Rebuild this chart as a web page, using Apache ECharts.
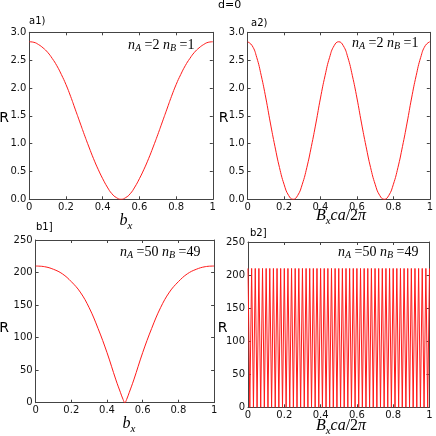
<!DOCTYPE html>
<html><head><meta charset="utf-8">
<script src="https://cdn.jsdelivr.net/npm/echarts@6/dist/echarts.min.js"></script>
<style>html,body{margin:0;padding:0;background:#fff;}#c{width:436px;height:436px;}</style>
</head><body><div id="c"></div>
<script>
// ---- data ----
const a1X = [0,0.025,0.05,0.075,0.1,0.125,0.15,0.175,0.2,0.225,0.25,0.275,0.3,0.325,0.35,0.375,0.4,0.425,0.45,0.475,0.5,
             0.525,0.55,0.575,0.6,0.625,0.65,0.675,0.7,0.725,0.75,0.775,0.8,0.825,0.85,0.875,0.9,0.925,0.95,0.975,1];
const a1R = [2.83,2.82,2.78,2.72,2.64,2.53,2.40,2.24,2.06,1.85,1.62,1.39,1.16,0.94,0.73,0.54,0.37,0.22,0.10,0.03,0.0,
             0.03,0.10,0.22,0.37,0.54,0.73,0.94,1.16,1.39,1.62,1.85,2.06,2.24,2.40,2.53,2.64,2.72,2.78,2.82,2.83];
const a2X = [0,0.025,0.05,0.075,0.1,0.125,0.15,0.175,0.2,0.225,0.25,0.275,0.3,0.325,0.35,0.375,0.4,0.425,0.45,0.475,0.5,
             0.525,0.55,0.575,0.6,0.625,0.65,0.675,0.7,0.725,0.75,0.775,0.8,0.825,0.85,0.875,0.9,0.925,0.95,0.975,1];
const a2R = [2.83,2.76,2.55,2.22,1.82,1.37,0.95,0.57,0.27,0.07,0.0,0.07,0.27,0.57,0.95,1.37,1.82,2.22,2.55,2.76,2.83,
             2.76,2.55,2.22,1.82,1.37,0.95,0.57,0.27,0.07,0.0,0.07,0.27,0.57,0.95,1.37,1.82,2.22,2.55,2.76,2.83];
const b1X = [0,0.05,0.1,0.15,0.2,0.25,0.3,0.35,0.4,0.45,0.475,0.49,0.5,0.51,0.525,0.55,0.6,0.65,0.7,0.75,0.8,0.85,0.9,0.95,1];
const b1R = [210,209,205,198,186,170,146,114,77,35,16,5,0,5,16,35,77,114,146,170,186,198,205,209,210];
const b2Step = 0.01;
const b2R = [210,0,210,0,210,0,210,0,210,0,210,0,210,0,210,0,210,0,210,0,
             210,0,210,0,210,0,210,0,210,0,210,0,210,0,210,0,210,0,210,0,
             210,0,210,0,210,0,210,0,210,0,210,0,210,0,210,0,210,0,210,0,
             210,0,210,0,210,0,210,0,210,0,210,0,210,0,210,0,210,0,210,0,
             210,0,210,0,210,0,210,0,210,0,210,0,210,0,210,0,210,0,210,0,210];
const aYTicks = {min:0, max:3, interval:0.5};
const bYTicks = {min:0, max:250, interval:50};
const xTicks = {min:0, max:1, interval:0.2};

// ---- layout ----
const grids = [
  {left:29.3, top:32.3, width:183.5, height:167},
  {left:247.6, top:32.3, width:183.5, height:167},
  {left:35.6, top:240, width:178.5, height:162.7},
  {left:248, top:242, width:181.5, height:165.3}
];
const axisCol = '#444';
const tickFont = {fontFamily:'DejaVu Sans', fontSize:10, color:'#111'};
function xAx(i, pos){
  return {type:'value', gridIndex:i, position:pos, min:xTicks.min, max:xTicks.max, interval:xTicks.interval,
    axisLine:{show:true, onZero:false, lineStyle:{color:axisCol, width:1}},
    axisTick:{show:true, inside:true, length:3, lineStyle:{color:axisCol}},
    axisLabel:Object.assign({show:pos==='bottom', margin:3}, tickFont),
    splitLine:{show:false}};
}
function yAx(i, pos, t, dec){
  return {type:'value', gridIndex:i, position:pos, min:t.min, max:t.max, interval:t.interval,
    axisLine:{show:true, onZero:false, lineStyle:{color:axisCol, width:1}},
    axisTick:{show:true, inside:true, length:3, lineStyle:{color:axisCol}},
    axisLabel:Object.assign({show:pos==='left', margin:3, formatter:v=>v.toFixed(dec)}, tickFont),
    splitLine:{show:false}};
}
const xAxis = [], yAxis = [];
for (let i=0;i<4;i++){
  xAxis.push(xAx(i,'bottom')); xAxis.push(xAx(i,'top'));
  const t = i<2 ? aYTicks : bYTicks, d = i<2 ? 1 : 0;
  yAxis.push(yAx(i,'left',t,d)); yAxis.push(yAx(i,'right',t,d));
}
function pairs(xs, ys){ return ys.map((y,k)=>[xs[k], y]); }
const b2Data = b2R.map((y,k)=>[k*b2Step, y]);
function ser(i, data, smooth){
  return {type:'line', xAxisIndex:2*i, yAxisIndex:2*i, data:data, smooth:smooth, showSymbol:false,
    lineStyle:{color:'#ff1a1a', width:1}, silent:true};
}
const series = [
  ser(0, pairs(a1X,a1R), 0.5),
  ser(1, pairs(a2X,a2R), 0.5),
  ser(2, pairs(b1X,b1R), 0.4),
  ser(3, b2Data, false)
];

const rich = {
  mi:{fontFamily:'Liberation Serif', fontStyle:'italic', fontSize:16, color:'#000'},
  rm:{fontFamily:'Liberation Serif', fontSize:16, color:'#000'},
  sub:{fontFamily:'Liberation Serif', fontStyle:'italic', fontSize:11, color:'#000', padding:[10,0,0,0]},
  ni:{fontFamily:'Liberation Serif', fontStyle:'italic', fontSize:14, color:'#000'},
  nr:{fontFamily:'Liberation Serif', fontSize:14, color:'#000'},
  ns:{fontFamily:'Liberation Serif', fontStyle:'italic', fontSize:10, color:'#000', padding:[7,0,0,0]}
};
function txt(x, y, text, font, align){
  return {type:'text', x:x, y:y, silent:true,
    style:{text:text, font:font, fill:'#000', align:align||'left', verticalAlign:'middle'}};
}
function rtxt(x, y, text, align){
  return {type:'text', x:x, y:y, silent:true,
    style:{text:text, rich:rich, fill:'#000', align:align||'center', verticalAlign:'middle'}};
}
const sansS = '10px "DejaVu Sans"';
const sansR = '14px "DejaVu Sans"';
const bx = '{mi|b}{sub|x}';
const Bx = '{mi|B}{sub|x}{mi|ca}{rm|/2}{mi|π}';
const graphic = [
  txt(29, 21.5, 'a1)', sansS),
  txt(218, 5, 'd=0', '11px "DejaVu Sans"'),
  txt(251, 23, 'a2)', sansS),
  txt(36, 227, 'b1]', sansS),
  txt(250, 233, 'b2]', sansS),
  txt(4, 118, 'R', sansR, 'center'),
  txt(223.5, 118, 'R', sansR, 'center'),
  txt(4, 328, 'R', sansR, 'center'),
  txt(222.5, 328, 'R', sansR, 'center'),
  rtxt(126, 221, bx),
  rtxt(129, 424, bx),
  rtxt(341, 216, Bx),
  rtxt(341, 426, Bx),
  rtxt(128, 45, '{ni|n}{ns|A}{nr| =2 }{ni|n}{ns|B}{nr| =1}', 'left'),
  rtxt(352, 43, '{ni|n}{ns|A}{nr| =2 }{ni|n}{ns|B}{nr| =1}', 'left'),
  rtxt(120, 252, '{ni|n}{ns|A}{nr| =50 }{ni|n}{ns|B}{nr| =49}', 'left'),
  rtxt(338, 252, '{ni|n}{ns|A}{nr| =50 }{ni|n}{ns|B}{nr| =49}', 'left')
];

const chart = echarts.init(document.getElementById('c'), null, {renderer:'canvas'});
chart.setOption({
  animation:false,
  backgroundColor:'#fff',
  grid: grids.map(g=>Object.assign({containLabel:false}, g)),
  xAxis: xAxis, yAxis: yAxis, series: series, graphic: graphic
});
</script></body></html>
